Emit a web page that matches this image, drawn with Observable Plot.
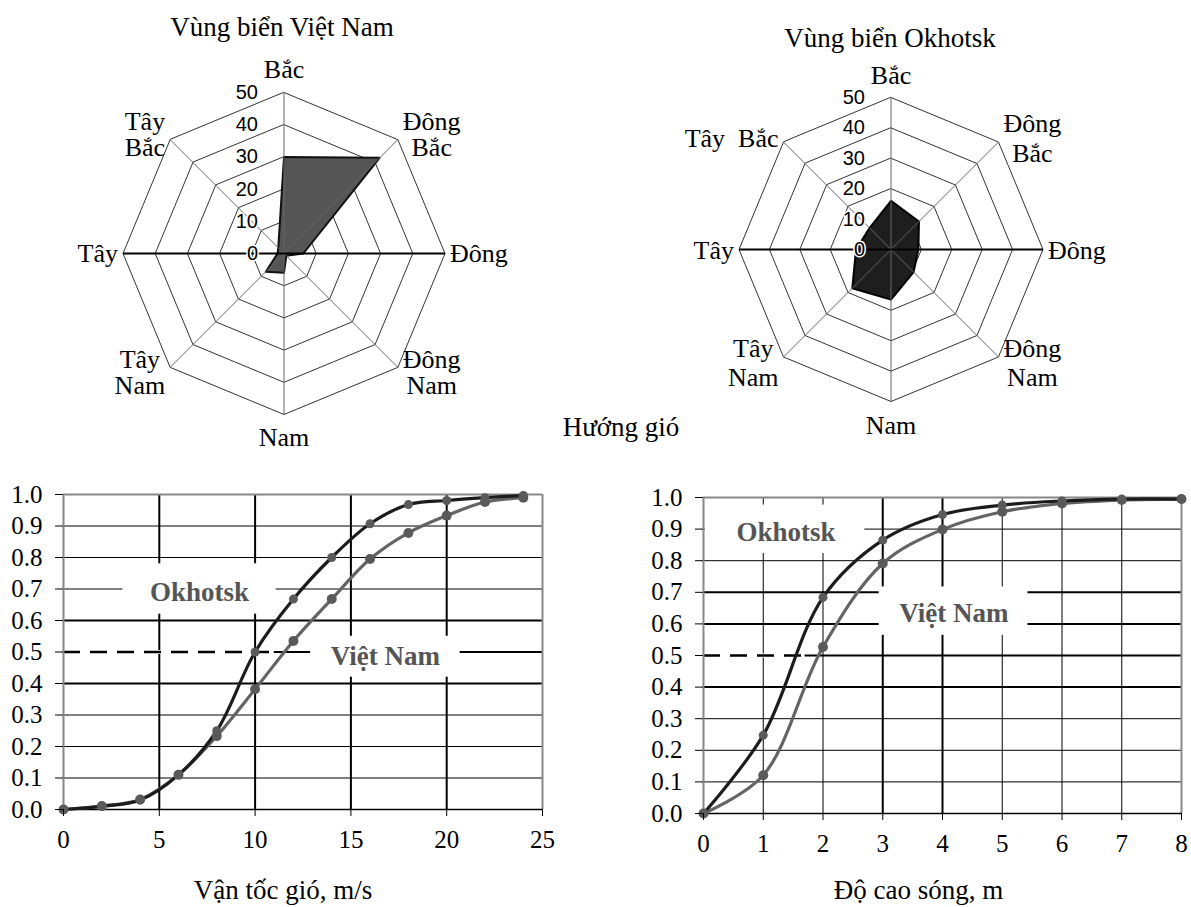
<!DOCTYPE html>
<html><head><meta charset="utf-8">
<script src="https://cdn.jsdelivr.net/npm/d3@7"></script>
<script src="https://cdn.jsdelivr.net/npm/@observablehq/plot@0.6"></script>
<style>
body{margin:0;background:#fff;}
#wrap{position:relative;width:1191px;height:907px;overflow:hidden;background:#fff;font-family:"Liberation Serif","Times New Roman",serif;}
#wrap svg{position:absolute;overflow:visible;}
#wrap [aria-label$="tick label"], #wrap [aria-label$="tick label"] text{font-family:"Liberation Serif","Times New Roman",serif !important;font-size:25px !important;}
.t{position:absolute;font-size:27px;line-height:1;white-space:nowrap;transform:translate(-50%,-50%);color:#000;}
</style></head><body><div id="wrap"></div>
<script>
// ---------- DATA ----------
const directions = ["Bắc","Đông Bắc","Đông","Đông Nam","Nam","Tây Nam","Tây","Tây Bắc"];
const vnDirLabels = ["Bắc","Đông\nBắc","Đông","Đông\nNam","Nam","Tây\nNam","Tây","Tây\nBắc"];
const okDirLabels = ["Bắc","Đông\nBắc","Đông","Đông\nNam","Nam","Tây\nNam","Tây","Tây\u00a0 Bắc"];
const vnWindDir = [30, 42, 6, 1, 6, 8, 2, 2.5];
const okWindDir = [16, 13, 9, 10.5, 16.5, 18, 11.5, 10];
const ringValues = [10, 20, 30, 40, 50];
const ringLabels = [0, 10, 20, 30, 40, 50];

const windSpeed = [0, 2, 4, 6, 8, 10, 12, 14, 16, 18, 20, 22, 24];
const okWindCdf = [0, 0.01, 0.03, 0.11, 0.25, 0.50, 0.668, 0.80, 0.907, 0.968, 0.981, 0.99, 0.997];
const vnWindCdf = [0, 0.011, 0.032, 0.11, 0.233, 0.382, 0.535, 0.668, 0.795, 0.878, 0.933, 0.976, 0.99];
const windTicks = [0, 5, 10, 15, 20, 25];

const waveHeight = [0, 1, 2, 3, 4, 5, 6, 7, 8];
const okWaveCdf = [0, 0.248, 0.684, 0.865, 0.946, 0.976, 0.989, 0.995, 0.995];
const vnWaveCdf = [0, 0.121, 0.527, 0.791, 0.899, 0.955, 0.981, 0.992, 0.995];
const waveTicks = [0, 1, 2, 3, 4, 5, 6, 7, 8];

const probTicks = [0, 0.1, 0.2, 0.3, 0.4, 0.5, 0.6, 0.7, 0.8, 0.9, 1.0];
const seriesNames = ["Okhotsk", "Việt Nam"];
const titles = ["Vùng biển Việt Nam", "Vùng biển Okhotsk", "Hướng gió", "Vận tốc gió, m/s", "Độ cao sóng, m"];

// ---------- HELPERS ----------
const serif = '"Liberation Serif","Times New Roman",serif';
const sans = '"Liberation Sans",Arial,sans-serif';
const wrap = document.getElementById("wrap");
const ctx = document.createElement("canvas").getContext("2d");
function textW(s, size) {
  ctx.font = `${size}px "Liberation Serif"`;
  return Math.max(...s.split("\n").map(l => ctx.measureText(l).width));
}
function place(node, left, top) {
  node.style.left = left + "px"; node.style.top = top + "px";
  wrap.appendChild(node);
}
function htmlText(txt, x, y) {
  const d = document.createElement("div");
  d.className = "t"; d.textContent = txt;
  d.style.left = x + "px"; d.style.top = y + "px";
  wrap.appendChild(d);
}

// ---------- RADAR ----------
function radar({values, labels, cx, cy, R, fill, stroke, lineHeight}) {
  const ang = i => i * Math.PI / 4;
  const pt = (v, i) => ({x: v * Math.sin(ang(i)), y: v * Math.cos(ang(i))});
  const u = R / 50;
  const rings = ringValues.flatMap(r => directions.map((d, i) => ({ring: r, ...pt(r, i)})));
  const spokes = directions.map((d, i) => ({dir: d, ...pt(50, i)}));
  const poly = values.map((v, i) => ({dir: directions[i], value: v, ...pt(v, i)}));
  const fs = 26;
  const lab = labels.map((t, i) => {
    const s = Math.sin(ang(i)), c = Math.cos(ang(i));
    let px = R * s, py = R * c;
    if (Math.abs(s) < 1e-6) py += Math.sign(c) * 23;
    else {
      px += Math.sign(s) * (5 + textW(t, fs) / 2);
      if (Math.abs(c) > 1e-6) py += Math.sign(c) * 5;
    }
    return {text: t, x: px / u, y: py / u};
  });
  const horiz = spokes.filter(d => Math.abs(d.y) < 1e-6);
  const other = spokes.filter(d => Math.abs(d.y) >= 1e-6);
  const svg = Plot.plot({
    width: 1191, height: 470, margin: 0,
    x: {domain: [-50, 50], range: [cx - R, cx + R], axis: null},
    y: {domain: [-50, 50], range: [cy + R, cy - R], axis: null},
    style: {background: "none", fontFamily: serif, color: "#000", overflow: "visible"},
    marks: [
      Plot.line(rings, {x: "x", y: "y", z: "ring", curve: "linear-closed", stroke: "#333", strokeWidth: 1}),
      Plot.line(poly, {x: "x", y: "y", curve: "linear-closed", fill, stroke, strokeWidth: 2, strokeLinejoin: "round"}),
      Plot.link(other, {x1: () => 0, y1: () => 0, x2: "x", y2: "y", stroke: "#666", strokeWidth: 1}),
      Plot.link(horiz, {x1: () => 0, y1: () => 0, x2: "x", y2: "y", stroke: "#000", strokeWidth: 2}),
      Plot.text(ringLabels, {x: () => 0, y: d => d, text: d => String(d), textAnchor: "end", dx: -26,
        fontFamily: sans, fontSize: 20, fill: "#000", stroke: "white", strokeWidth: 3, paintOrder: "stroke"}),
      Plot.text(lab, {x: "x", y: "y", text: "text", fontSize: fs, fontFamily: serif, lineHeight, textAnchor: "middle",
        lineAnchor: "middle", fill: "#000"})
    ]
  });
  place(svg, 0, 0);
}

// ---------- CDF CHART ----------
function cdf(o) {
  const okData = o.xs.map((x, i) => ({x, y: o.ok[i], s: seriesNames[0]}));
  const vnData = o.xs.map((x, i) => ({x, y: o.vn[i], s: seriesNames[1]}));
  const innerY = probTicks.filter(v => v > 0 && v < 1);
  const thickY = innerY.filter(v => o.thickY.some(t => Math.abs(t - v) < 1e-9));
  const thinY = innerY.filter(v => !thickY.includes(v));
  const innerX = o.xTicks.filter(v => v > 0 && v < o.xMax);
  const thickX = innerX.filter(v => o.thickX.includes(v));
  const thinX = innerX.filter(v => !thickX.includes(v));
  const okC = "#1c1c1c", vnC = "#646464", dotC = "#5a5a5a";
  const svg = Plot.plot({
    width: o.width, height: o.height,
    marginLeft: o.mL, marginRight: o.mR, marginTop: o.mT, marginBottom: o.mB,
    x: {domain: [0, o.xMax]},
    y: {domain: [0, 1]},
    style: {background: "none", fontFamily: serif, color: "#000", overflow: "visible"},
    marks: [
      Plot.ruleY(thinY, {stroke: "#000", strokeWidth: 1}),
      Plot.ruleY(thickY, {stroke: "#000", strokeWidth: 2}),
      Plot.ruleX(thinX, {stroke: "#000", strokeWidth: 1}),
      Plot.ruleX(thickX, {stroke: "#000", strokeWidth: 2}),
      Plot.rect([o.okBox, o.vnBox], {x1: "x1", x2: "x2", y1: "y1", y2: "y2", fill: "white"}),
      Plot.ruleY([0.5], {y: d => d, x1: () => 0, x2: () => o.dashTo, stroke: "white", strokeWidth: 4}),
      Plot.ruleY([0.5], {y: d => d, x1: () => 0, x2: () => o.dashTo, stroke: "#000", strokeWidth: 2.5, strokeDasharray: "17,10"}),
      Plot.ruleY([1], {stroke: "#888", strokeWidth: 2}),
      Plot.ruleX([0, o.xMax], {stroke: "#888", strokeWidth: 2}),
      Plot.ruleY([0], {stroke: "#000", strokeWidth: 1.5}),
      Plot.line(vnData, {x: "x", y: "y", curve: "catmull-rom", stroke: vnC, strokeWidth: 3.2}),
      Plot.line(okData, {x: "x", y: "y", curve: "catmull-rom", stroke: okC, strokeWidth: 3.2}),
      Plot.dot(vnData, {x: "x", y: "y", r: 5, fill: dotC}),
      Plot.dot(okData, {x: "x", y: "y", r: 4.5, fill: dotC}),
      Plot.text([seriesNames[0]], {x: () => o.okBox.tx, y: () => o.okBox.ty, text: d => d, fontSize: 27,
        fontFamily: serif, fontWeight: "bold", fill: "#555", lineAnchor: "middle"}),
      Plot.text([seriesNames[1]], {x: () => o.vnBox.tx, y: () => o.vnBox.ty, text: d => d, fontSize: 27,
        fontFamily: serif, fontWeight: "bold", fill: "#555", lineAnchor: "middle"}),
      Plot.axisY({ticks: probTicks, tickFormat: d3.format(".1f"), tickSize: 8, tickPadding: 13,
        fontSize: 25, fontFamily: serif, label: null}),
      Plot.axisX({ticks: o.xTicks, tickFormat: d => String(d), tickSize: 7, tickPadding: 14,
        fontSize: 25, fontFamily: serif, label: null}),
      Plot.text([o.title], {frameAnchor: "bottom", dy: o.titleDy, dx: o.titleDx, text: d => d,
        fontSize: 27, fontFamily: serif, lineAnchor: "middle", fill: "#000"})
    ]
  });
  place(svg, o.left, o.top);
}

// ---------- BUILD ----------
cdf({left: 0, top: 470, width: 570, height: 437, mL: 63, mR: 28, mT: 24, mB: 98,
  xs: windSpeed, ok: okWindCdf, vn: vnWindCdf, xMax: 25, xTicks: windTicks,
  thickY: [0.4, 0.5, 0.6], thickX: [5, 10, 15, 20],
  okBox: {x1: 3.1, x2: 11.1, y1: 0.62, y2: 0.78, tx: 7.1, ty: 0.69},
  vnBox: {x1: 12.9, x2: 20.7, y1: 0.42, y2: 0.55, tx: 16.8, ty: 0.485},
  dashTo: 11, title: titles[3], titleDx: -20, titleDy: 81});

cdf({left: 620, top: 470, width: 571, height: 437, mL: 83, mR: 10, mT: 27, mB: 94,
  xs: waveHeight, ok: okWaveCdf, vn: vnWaveCdf, xMax: 8, xTicks: waveTicks,
  thickY: [0.4, 0.5, 0.6, 0.7], thickX: [3, 4],
  okBox: {x1: 0.03, x2: 2.7, y1: 0.823, y2: 0.976, tx: 1.38, ty: 0.891},
  vnBox: {x1: 2.94, x2: 5.43, y1: 0.564, y2: 0.717, tx: 4.19, ty: 0.633},
  dashTo: 1.7, title: titles[4], titleDx: -24, titleDy: 77});

radar({values: vnWindDir, labels: vnDirLabels, cx: 283.5, cy: 253, R: 161,
  fill: "#555", stroke: "#111", lineHeight: 1.02});
radar({values: okWindDir, labels: okDirLabels, cx: 890.5, cy: 249, R: 152,
  fill: "#1e1e1e", stroke: "#000", lineHeight: 1.15});

htmlText(titles[0], 282, 27);
htmlText(titles[1], 890, 38);
htmlText(titles[2], 621, 427);
</script></body></html>
